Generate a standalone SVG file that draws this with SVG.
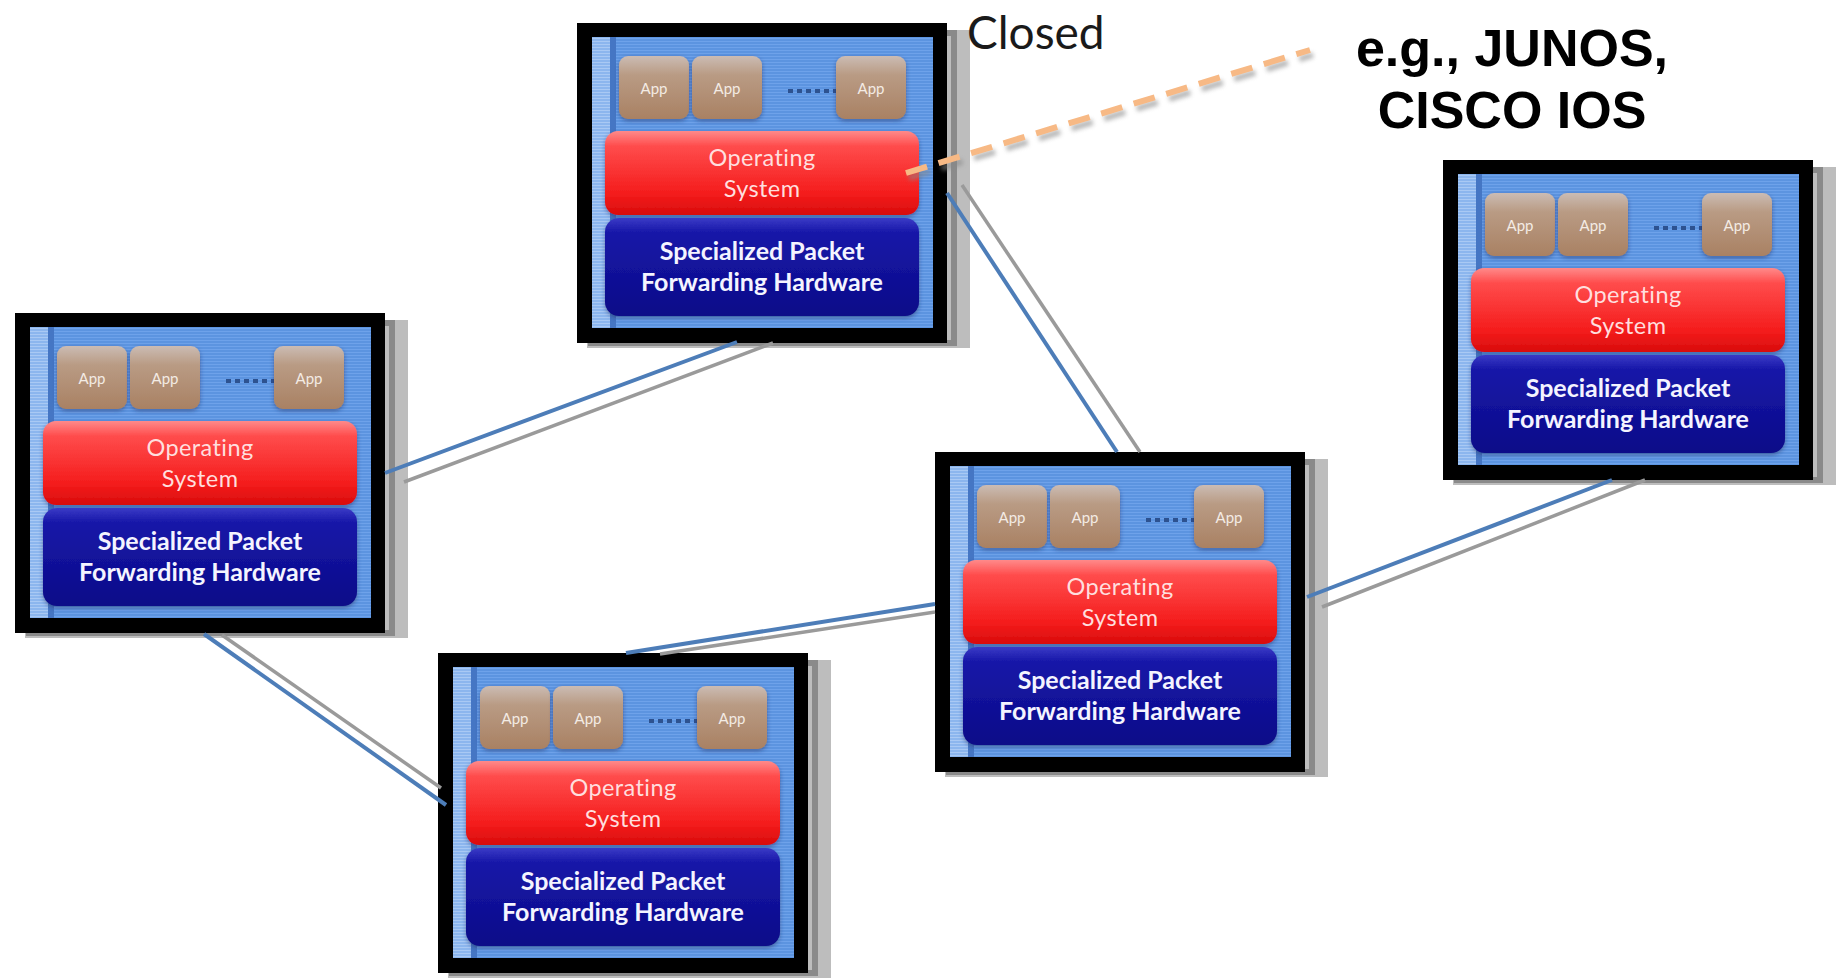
<svg xmlns="http://www.w3.org/2000/svg" width="1845" height="980" viewBox="0 0 1845 980">
<defs>
<pattern id="stripes" width="4" height="3" patternUnits="userSpaceOnUse">
<rect width="4" height="3" fill="#5c94e0"/>
<rect width="4" height="1" fill="#6ea2ea"/>
</pattern>
<pattern id="stripes2" width="4" height="3" patternUnits="userSpaceOnUse">
<rect width="4" height="3" fill="#8cb6ee"/>
<rect width="4" height="1" fill="#a9c9f4"/>
</pattern>
<linearGradient id="gApp" x1="0" y1="0" x2="0" y2="1">
<stop offset="0" stop-color="#cbbcb4"/>
<stop offset="0.3" stop-color="#b99b84"/>
<stop offset="1" stop-color="#a98163"/>
</linearGradient>
<linearGradient id="gOS" x1="0" y1="0" x2="0" y2="1">
<stop offset="0" stop-color="#ff8a8a"/>
<stop offset="0.18" stop-color="#ff4c4c"/>
<stop offset="0.75" stop-color="#f41c1c"/>
<stop offset="1" stop-color="#d80c0c"/>
</linearGradient>
<linearGradient id="gHW" x1="0" y1="0" x2="0" y2="1">
<stop offset="0" stop-color="#3a3ac6"/>
<stop offset="0.15" stop-color="#1717a8"/>
<stop offset="1" stop-color="#0b0b88"/>
</linearGradient>
<filter id="soft" x="-10%" y="-10%" width="120%" height="130%">
<feDropShadow dx="0" dy="2" stdDeviation="2" flood-color="#1a2a60" flood-opacity="0.5"/>
</filter>
<filter id="blur2" x="-5%" y="-20%" width="110%" height="140%">
<feGaussianBlur stdDeviation="2"/>
</filter>
</defs>
<style>
.sh1{fill:#bdbdbd}
.sh2{fill:none;stroke:#8a8a8a;stroke-width:6}
.frame{fill:#000}
.inner{fill:url(#stripes)}
.strip{fill:url(#stripes2)}
.stripedge{fill:#4576c4}
.app{fill:url(#gApp);filter:url(#soft)}
.apptxt{font-family:Lato,"Open Sans",sans-serif;font-size:15px;fill:#f3ebe4;text-anchor:middle}
.dots{stroke:#2d5290;stroke-width:4;stroke-dasharray:5 4}
.os{fill:url(#gOS);filter:url(#soft)}
.ostxt{font-family:Lato,"Open Sans",sans-serif;font-size:23.5px;letter-spacing:0.4px;fill:#ffdede;text-anchor:middle}
.hw{fill:url(#gHW);filter:url(#soft)}
.hwtxt{font-family:Lato,"Open Sans",sans-serif;font-size:25px;font-weight:bold;fill:#f4f4ff;text-anchor:middle}
.cb{stroke:#4d7db8;stroke-width:4;fill:none}
.cg{stroke:#9a9a9a;stroke-width:3.5;fill:none}
</style>
<rect width="1845" height="980" fill="#ffffff"/>

<g id="node-top" transform="translate(577,23)">
<rect class="sh1" x="10" y="7" width="383" height="318"/>
<rect class="sh2" x="14" y="10" width="363" height="310"/>
<rect class="frame" width="370" height="320"/>
<rect class="inner" x="15" y="14" width="341" height="291"/>
<rect class="strip" x="15" y="14" width="18" height="291"/>
<rect class="stripedge" x="33" y="14" width="6" height="291"/>
<rect class="app" x="42" y="33" width="70" height="63" rx="9"/>
<rect class="app" x="115" y="33" width="70" height="63" rx="9"/>
<line class="dots" x1="211" y1="68" x2="262" y2="68"/>
<rect class="app" x="259" y="33" width="70" height="63" rx="9"/>
<text class="apptxt" x="77" y="71">App</text>
<text class="apptxt" x="150" y="71">App</text>
<text class="apptxt" x="294" y="71">App</text>
<rect class="os" x="28" y="108" width="314" height="84" rx="13"/>
<text class="ostxt"><tspan x="185" y="143">Operating</tspan><tspan x="185" y="174">System</tspan></text>
<rect class="hw" x="28" y="195" width="314" height="98" rx="14"/>
<text class="hwtxt"><tspan x="185" y="237">Specialized Packet</tspan><tspan x="185" y="268">Forwarding Hardware</tspan></text>
</g>

<g id="node-left" transform="translate(15,313)">
<rect class="sh1" x="10" y="7" width="383" height="318"/>
<rect class="sh2" x="14" y="10" width="363" height="310"/>
<rect class="frame" width="370" height="320"/>
<rect class="inner" x="15" y="14" width="341" height="291"/>
<rect class="strip" x="15" y="14" width="18" height="291"/>
<rect class="stripedge" x="33" y="14" width="6" height="291"/>
<rect class="app" x="42" y="33" width="70" height="63" rx="9"/>
<rect class="app" x="115" y="33" width="70" height="63" rx="9"/>
<line class="dots" x1="211" y1="68" x2="262" y2="68"/>
<rect class="app" x="259" y="33" width="70" height="63" rx="9"/>
<text class="apptxt" x="77" y="71">App</text>
<text class="apptxt" x="150" y="71">App</text>
<text class="apptxt" x="294" y="71">App</text>
<rect class="os" x="28" y="108" width="314" height="84" rx="13"/>
<text class="ostxt"><tspan x="185" y="143">Operating</tspan><tspan x="185" y="174">System</tspan></text>
<rect class="hw" x="28" y="195" width="314" height="98" rx="14"/>
<text class="hwtxt"><tspan x="185" y="237">Specialized Packet</tspan><tspan x="185" y="268">Forwarding Hardware</tspan></text>
</g>

<g id="node-right" transform="translate(1443,160)">
<rect class="sh1" x="10" y="7" width="383" height="318"/>
<rect class="sh2" x="14" y="10" width="363" height="310"/>
<rect class="frame" width="370" height="320"/>
<rect class="inner" x="15" y="14" width="341" height="291"/>
<rect class="strip" x="15" y="14" width="18" height="291"/>
<rect class="stripedge" x="33" y="14" width="6" height="291"/>
<rect class="app" x="42" y="33" width="70" height="63" rx="9"/>
<rect class="app" x="115" y="33" width="70" height="63" rx="9"/>
<line class="dots" x1="211" y1="68" x2="262" y2="68"/>
<rect class="app" x="259" y="33" width="70" height="63" rx="9"/>
<text class="apptxt" x="77" y="71">App</text>
<text class="apptxt" x="150" y="71">App</text>
<text class="apptxt" x="294" y="71">App</text>
<rect class="os" x="28" y="108" width="314" height="84" rx="13"/>
<text class="ostxt"><tspan x="185" y="143">Operating</tspan><tspan x="185" y="174">System</tspan></text>
<rect class="hw" x="28" y="195" width="314" height="98" rx="14"/>
<text class="hwtxt"><tspan x="185" y="237">Specialized Packet</tspan><tspan x="185" y="268">Forwarding Hardware</tspan></text>
</g>

<g id="node-middle" transform="translate(935,452)">
<rect class="sh1" x="10" y="7" width="383" height="318"/>
<rect class="sh2" x="14" y="10" width="363" height="310"/>
<rect class="frame" width="370" height="320"/>
<rect class="inner" x="15" y="14" width="341" height="291"/>
<rect class="strip" x="15" y="14" width="18" height="291"/>
<rect class="stripedge" x="33" y="14" width="6" height="291"/>
<rect class="app" x="42" y="33" width="70" height="63" rx="9"/>
<rect class="app" x="115" y="33" width="70" height="63" rx="9"/>
<line class="dots" x1="211" y1="68" x2="262" y2="68"/>
<rect class="app" x="259" y="33" width="70" height="63" rx="9"/>
<text class="apptxt" x="77" y="71">App</text>
<text class="apptxt" x="150" y="71">App</text>
<text class="apptxt" x="294" y="71">App</text>
<rect class="os" x="28" y="108" width="314" height="84" rx="13"/>
<text class="ostxt"><tspan x="185" y="143">Operating</tspan><tspan x="185" y="174">System</tspan></text>
<rect class="hw" x="28" y="195" width="314" height="98" rx="14"/>
<text class="hwtxt"><tspan x="185" y="237">Specialized Packet</tspan><tspan x="185" y="268">Forwarding Hardware</tspan></text>
</g>

<g id="node-bottom" transform="translate(438,653)">
<rect class="sh1" x="10" y="7" width="383" height="318"/>
<rect class="sh2" x="14" y="10" width="363" height="310"/>
<rect class="frame" width="370" height="320"/>
<rect class="inner" x="15" y="14" width="341" height="291"/>
<rect class="strip" x="15" y="14" width="18" height="291"/>
<rect class="stripedge" x="33" y="14" width="6" height="291"/>
<rect class="app" x="42" y="33" width="70" height="63" rx="9"/>
<rect class="app" x="115" y="33" width="70" height="63" rx="9"/>
<line class="dots" x1="211" y1="68" x2="262" y2="68"/>
<rect class="app" x="259" y="33" width="70" height="63" rx="9"/>
<text class="apptxt" x="77" y="71">App</text>
<text class="apptxt" x="150" y="71">App</text>
<text class="apptxt" x="294" y="71">App</text>
<rect class="os" x="28" y="108" width="314" height="84" rx="13"/>
<text class="ostxt"><tspan x="185" y="143">Operating</tspan><tspan x="185" y="174">System</tspan></text>
<rect class="hw" x="28" y="195" width="314" height="98" rx="14"/>
<text class="hwtxt"><tspan x="185" y="237">Specialized Packet</tspan><tspan x="185" y="268">Forwarding Hardware</tspan></text>
</g>

<g id="connectors">
<line class="cb" x1="737" y1="342" x2="385" y2="473"/>
<line class="cg" x1="773" y1="343" x2="404" y2="482"/>
<line class="cb" x1="947" y1="193" x2="1117" y2="452"/>
<line class="cg" x1="962" y1="185" x2="1140" y2="452"/>
<line class="cb" x1="204" y1="634" x2="446" y2="805"/>
<line class="cg" x1="222" y1="635" x2="441" y2="788"/>
<line class="cb" x1="626" y1="653" x2="935" y2="604"/>
<line class="cg" x1="660" y1="654" x2="935" y2="612"/>
<line class="cb" x1="1612" y1="480" x2="1307" y2="597"/>
<line class="cg" x1="1645" y1="480" x2="1322" y2="607"/>
</g>

<g id="callout">
<line x1="909" y1="178" x2="1313" y2="55" stroke="#888" stroke-width="6" stroke-dasharray="22 12" opacity="0.6" filter="url(#blur2)"/>
<line x1="906" y1="173" x2="1310" y2="50" stroke="#f7b985" stroke-width="6" stroke-dasharray="22 12"/>
<text x="967" y="49" font-family="Lato,'Open Sans',sans-serif" font-size="46" fill="#1a1a1a">Closed</text>
<text font-family="'Liberation Sans',Arial,sans-serif" font-size="52" font-weight="bold" fill="#000" text-anchor="middle"><tspan x="1512" y="66">e.g., JUNOS,</tspan><tspan x="1512" y="128">CISCO IOS</tspan></text>
</g>
</svg>
